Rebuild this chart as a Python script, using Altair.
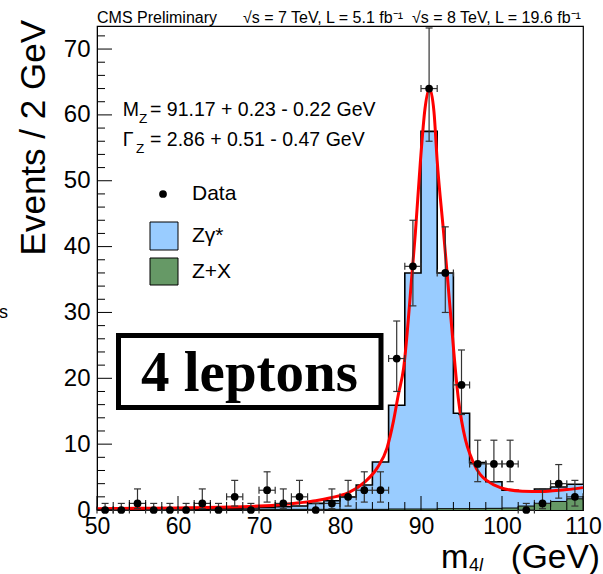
import altair as alt
import pandas as pd

# ---------------- data ----------------
bin_lo = [50, 52, 54, 56, 58, 60, 62, 64, 66, 68, 70, 72, 74, 76, 78,
          80, 82, 84, 86, 88, 90, 92, 94, 96, 98, 100, 102, 104, 106, 108]
bin_hi = [b + 2 for b in bin_lo]
bin_c = [b + 1 for b in bin_lo]

# stacked total (Z+X + Zgamma*) per bin
total = [0.10, 0.10, 0.10, 0.12, 0.12, 0.15, 0.15, 0.20, 0.25, 0.30,
         0.40, 0.50, 0.60, 1.00, 1.40, 2.00, 3.80, 7.30, 15.9, 36.0,
         57.5, 36.0, 14.7, 7.20, 4.30, 3.00, 2.90, 3.20, 3.50, 3.90]
# Z+X per bin
zx = [0.05, 0.05, 0.05, 0.05, 0.05, 0.05, 0.05, 0.05, 0.05, 0.05,
      0.10, 0.10, 0.10, 0.10, 0.10, 0.10, 0.10, 0.10, 0.15, 0.15,
      0.15, 0.20, 0.20, 0.20, 0.25, 0.30, 0.60, 1.00, 1.30, 1.70]

# observed events per bin
data_n = [0, 0, 1, 0, 0, 0, 1, 0, 2, 0, 3, 1, 2, 0, 1,
          2, 3, 3, 23, 37, 64, 36, 19, 7, 7, 7, 0, 1, 4, 2]
err_lo = [0, 0, 0.2, 0, 0, 0, 0.2, 0, 0.6, 0, 1.2, 0.2, 0.6, 0, 0.2,
          0.6, 1.2, 1.2, 18.0, 31.0, 56.0, 30.0, 14.5, 4.3, 4.3, 4.3, 0, 0.2, 1.8, 0.6]
err_hi = [1.0, 1.0, 3.2, 1.0, 1.0, 1.0, 3.2, 1.0, 4.5, 1.0, 5.8, 3.2, 4.5, 1.0, 3.2,
          4.5, 5.8, 5.8, 28.7, 44.0, 73.2, 43.0, 24.3, 10.6, 10.6, 10.6, 1.0, 3.2, 6.9, 4.5]

# fitted curve
fit_x = [50, 55, 60, 65, 68, 70, 73, 75, 77, 79, 81, 83, 84.6, 85.8, 86.6,
         87.2, 87.85, 88.9, 89.3, 89.9, 90.5, 91.05, 91.6, 92.0, 92.8, 93.6,
         94.6, 95.5, 96.1, 96.5, 97.3, 98.1, 99.8, 102.5, 105, 106, 108, 110]
fit_y = [0.2, 0.25, 0.3, 0.4, 0.5, 0.6, 0.85, 1.1, 1.4, 1.9, 2.6, 4.2, 6.4, 9.4, 13.5,
         17.5, 21.5, 36.0, 42.0, 52.5, 61.0, 64.0, 60.5, 53.0, 42.0, 30.5,
         17.0, 10.6, 8.3, 7.1, 5.4, 4.5, 3.4, 2.85, 2.8, 2.9, 3.1, 3.4]

x_major = [50, 60, 70, 80, 90, 100, 110]
x_minor = [52, 54, 56, 58, 62, 64, 66, 68, 72, 74, 76, 78, 82, 84, 86, 88,
           92, 94, 96, 98, 102, 104, 106, 108]
y_major = [0, 10, 20, 30, 40, 50, 60, 70]
y_minor = [2, 4, 6, 8, 12, 14, 16, 18, 22, 24, 26, 28, 32, 34, 36, 38,
           42, 44, 46, 48, 52, 54, 56, 58, 62, 64, 66, 68, 72]

legend_labels = ["Data", "Zγ*", "Z+X"]

# ---------------- styling ----------------
W, H = 486, 484
FONT = "Liberation Sans"
BLUE = "#99ccff"
GREEN = "#669966"
ERR = "#333333"

xs = alt.Scale(domain=[50, 110], nice=False, zero=False)
ys = alt.Scale(domain=[0, 73.5], nice=False, zero=False)

xaxis = alt.Axis(values=x_major, ticks=False, grid=False, labelFontSize=23,
                 labelFont=FONT, labelColor="black", labelPadding=5, title=None,
                 domainColor="black", labelFlush=False)
yaxis = alt.Axis(values=y_major, ticks=False, grid=False, labelFontSize=24,
                 labelFont=FONT, labelColor="black", labelPadding=7, title=None,
                 domainColor="black")


def X(f):
    return alt.X(f, scale=xs, axis=xaxis)


def Y(f):
    return alt.Y(f, scale=ys, axis=yaxis)


hist = pd.DataFrame({
    "lo": bin_lo, "hi": bin_hi, "c": bin_c,
    "n": data_n, "elo": err_lo, "ehi": err_hi,
})

step = pd.DataFrame({"x": bin_lo + [110],
                     "tot": total + [total[-1]],
                     "zx": zx + [zx[-1]]})
fit = pd.DataFrame({"x": fit_x, "y": fit_y})

sbase = alt.Chart(step)
zg_area = sbase.mark_area(interpolate="step-after", color=BLUE, opacity=1).encode(
    x=X("x:Q"), y=Y("zx:Q"), y2="tot:Q")
zx_area = sbase.mark_area(interpolate="step-after", color=GREEN, opacity=1).encode(
    x=X("x:Q"), y=Y("zx:Q"), y2=alt.datum(0))
tot_line = sbase.mark_line(interpolate="step-after", color="black",
                           strokeWidth=1.6).encode(x=X("x:Q"), y=Y("tot:Q"))
zx_line = sbase.mark_line(interpolate="step-after", color="black",
                          strokeWidth=1).encode(x=X("x:Q"), y=Y("zx:Q"))

fit_line = alt.Chart(fit).mark_line(interpolate="monotone", color="#ff0000",
                                    strokeWidth=3).encode(x=X("x:Q"), y=Y("y:Q"))

base = alt.Chart(hist)
vbar = base.mark_rule(color=ERR, strokeWidth=1.2).encode(
    x=X("c:Q"), y=Y("elo:Q"), y2="ehi:Q")
cap_hi = base.mark_rule(color=ERR, strokeWidth=1.2, xOffset=-3.5, x2Offset=3.5).encode(
    x=X("c:Q"), x2="c:Q", y=Y("ehi:Q"))
cap_lo = base.mark_rule(color=ERR, strokeWidth=1.2, xOffset=-3.5, x2Offset=3.5).encode(
    x=X("c:Q"), x2="c:Q", y=Y("elo:Q"))
hbar = base.mark_rule(color=ERR, strokeWidth=1.2).encode(
    x=X("lo:Q"), x2="hi:Q", y=Y("n:Q"))
hcap_l = base.mark_rule(color=ERR, strokeWidth=1.2, yOffset=-3.5, y2Offset=3.5).encode(
    x=X("lo:Q"), y=Y("n:Q"), y2="n:Q")
hcap_r = base.mark_rule(color=ERR, strokeWidth=1.2, yOffset=-3.5, y2Offset=3.5).encode(
    x=X("hi:Q"), y=Y("n:Q"), y2="n:Q")
pts = base.mark_circle(color="black", opacity=1, size=60).encode(
    x=X("c:Q"), y=Y("n:Q"))


# inward ticks
def xticks(vals, length):
    return alt.Chart(pd.DataFrame({"v": vals})).mark_rule(color="black", strokeWidth=1).encode(
        x=X("v:Q"), y=alt.value(H), y2=alt.value(H - length))


def yticks(vals, length):
    return alt.Chart(pd.DataFrame({"v": vals})).mark_rule(color="black", strokeWidth=1).encode(
        y=Y("v:Q"), x=alt.value(0), x2=alt.value(length))


ticks = [xticks(x_major, 14), xticks(x_minor, 8), yticks(y_major, 15), yticks(y_minor, 8)]

# "4 leptons" box
box = alt.Chart(pd.DataFrame({"t": ["4 leptons"]})).mark_rect(
    fill="white", stroke="black", strokeWidth=5).encode(
    x=alt.value(21.5), x2=alt.value(284), y=alt.value(309.5), y2=alt.value(381.5))
box_txt = alt.Chart(pd.DataFrame({"t": ["4 leptons"]})).mark_text(
    font="Liberation Serif", fontWeight="bold", fontSize=57, align="center",
    baseline="middle", color="black").encode(
    text="t:N", x=alt.value(152.5), y=alt.value(348))

# legend
leg_pt = alt.Chart(pd.DataFrame({"l": [legend_labels[0]]})).mark_circle(
    color="black", opacity=1, size=60).encode(x=alt.value(66), y=alt.value(168))
leg_blue = alt.Chart(pd.DataFrame({"l": [legend_labels[1]]})).mark_rect(
    fill=BLUE, stroke="black", strokeWidth=1).encode(
    x=alt.value(53), x2=alt.value(81), y=alt.value(196), y2=alt.value(224))
leg_green = alt.Chart(pd.DataFrame({"l": [legend_labels[2]]})).mark_rect(
    fill=GREEN, stroke="black", strokeWidth=1).encode(
    x=alt.value(53), x2=alt.value(81), y=alt.value(232), y2=alt.value(259))


def txt(s, x, y, size, align="left", baseline="alphabetic", angle=0, style="normal",
        font=FONT):
    kw = dict(font=font, fontSize=size, align=align, baseline=baseline, color="black",
              fontStyle=style)
    if angle:
        kw["angle"] = angle
    return alt.Chart(pd.DataFrame({"t": [s]})).mark_text(**kw).encode(
        text="t:N", x=alt.value(x), y=alt.value(y))


texts = [
    txt(legend_labels[0], 95, 168, 21, baseline="middle"),
    txt(legend_labels[1], 95, 210, 21, baseline="middle"),
    txt(legend_labels[2], 95, 246, 21, baseline="middle"),
    txt("CMS Preliminary", 0, -3.5, 16),
    txt("√s = 7 TeV, L = 5.1 fb⁻¹", 146, -3.5, 16),
    txt("√s = 8 TeV, L = 19.6 fb⁻¹", 315, -3.5, 16),
    txt("M", 25.7, 90, 19.5),
    txt("Z", 42, 97, 13.5),
    txt("= 91.17 + 0.23 - 0.22 GeV", 53, 90, 19.5),
    txt("Γ", 25.7, 120, 19.5),
    txt("Z", 39, 127, 13.5),
    txt("= 2.86 + 0.51 - 0.47 GeV", 53, 120, 19.5),
    txt("Events / 2 GeV", -63, -6, 35, align="right", baseline="middle", angle=270),
    txt("m", 344, 541.5, 33),
    txt("4", 372, 545, 18),
    txt("l", 382, 545, 18, style="italic"),
    txt("(GeV)", 503, 542, 33.5, align="right"),
    txt("s", -89, 292, 18, align="right"),
]

layers = [zg_area, zx_area, tot_line, zx_line, fit_line, vbar, cap_hi, cap_lo,
          hbar, hcap_l, hcap_r, pts] + ticks + [box, box_txt, leg_blue, leg_green,
                                               leg_pt] + texts

chart = alt.layer(*layers).properties(
    width=W, height=H,
    autosize=alt.AutoSizeParams(type="none"),
    padding={"left": 97, "top": 26, "right": 20, "bottom": 64},
    background="white",
).configure_view(stroke="black", strokeWidth=1.2)

chart.save("out.html", embed_options={"renderer": "svg", "actions": False})
